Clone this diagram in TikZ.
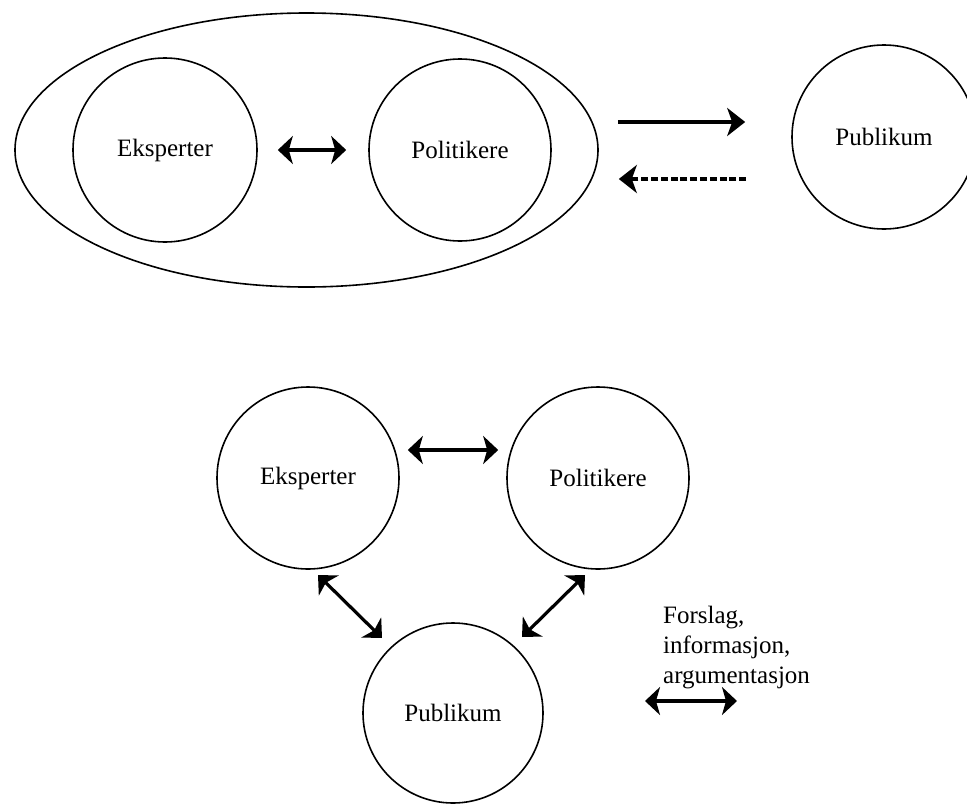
\documentclass[tikz,border=0pt]{standalone}
\usepackage{fontspec}
\setmainfont{Liberation Serif}
\usetikzlibrary{shapes.geometric,arrows.meta,calc}
\begin{document}
\begin{tikzpicture}[x=1pt,y=-1pt,
  circ/.style={circle,draw,line width=1.6pt,inner sep=0pt,font=\fontsize{25}{30}\selectfont},
  conn/.style={line width=3.2pt,{Stealth[length=15pt,width=28pt,inset=4pt]}-{Stealth[length=15pt,width=28pt,inset=4pt]}},
  oneway/.style={line width=3.2pt,-{Stealth[length=18pt,width=28pt,inset=5pt]}},
  dashway/.style={line width=4.5pt,dash pattern=on 7pt off 2.8pt,-{Stealth[length=18pt,width=28pt,inset=5pt]}},
  lbl/.style={font=\fontsize{25}{30}\selectfont,align=left,inner sep=0pt}]
\useasboundingbox (0,0) rectangle (967,804);
\clip (0,0) rectangle (967,804);
% top part
\node[ellipse,draw,line width=1.6pt,minimum width=583pt,minimum height=274pt,inner sep=0pt] (grp) at (306.5,150) {};
\node[circ,minimum size=184pt] (e1) at (165,150) {Eksperter};
\node[circ,minimum size=182pt] (p1) at (460,150) {Politikere};
\node[circ,minimum size=184pt] (pub1) at (884,137) {Publikum};
\draw[conn,shorten <=20pt,shorten >=22pt] (e1) -- (p1);
\draw[oneway] ($(grp.east)+(19,-28)$) -- ($(pub1.west)+(-46,-15)$);
\draw[dashway] ($(pub1.west)+(-45,42)$) -- ($(grp.east)+(20,29)$);
% bottom part
\node[circ,minimum size=182pt] (e2) at (308,478) {Eksperter};
\node[circ,minimum size=182pt] (p2) at (598,478) {Politikere};
\node[circ,minimum size=180pt] (pub2) at (453,713) {Publikum};
\draw[conn] ($(e2.east)+(8,-28)$) -- ($(p2.west)+(-8,-28)$);
\draw[conn] ($(e2.center)+(10,97)$) -- ($(pub2.center)+(-71,-75)$);
\draw[conn] ($(p2.center)+(-13,97)$) -- ($(pub2.center)+(69,-76)$);
% legend
\node[lbl,anchor=north west] (leg) at (663,606) {Forslag,\\informasjon,\\argumentasjon};
\draw[conn] ($(leg.north west)+(-18,95)$) -- ($(leg.north west)+(74,95)$);
\end{tikzpicture}
\end{document}
